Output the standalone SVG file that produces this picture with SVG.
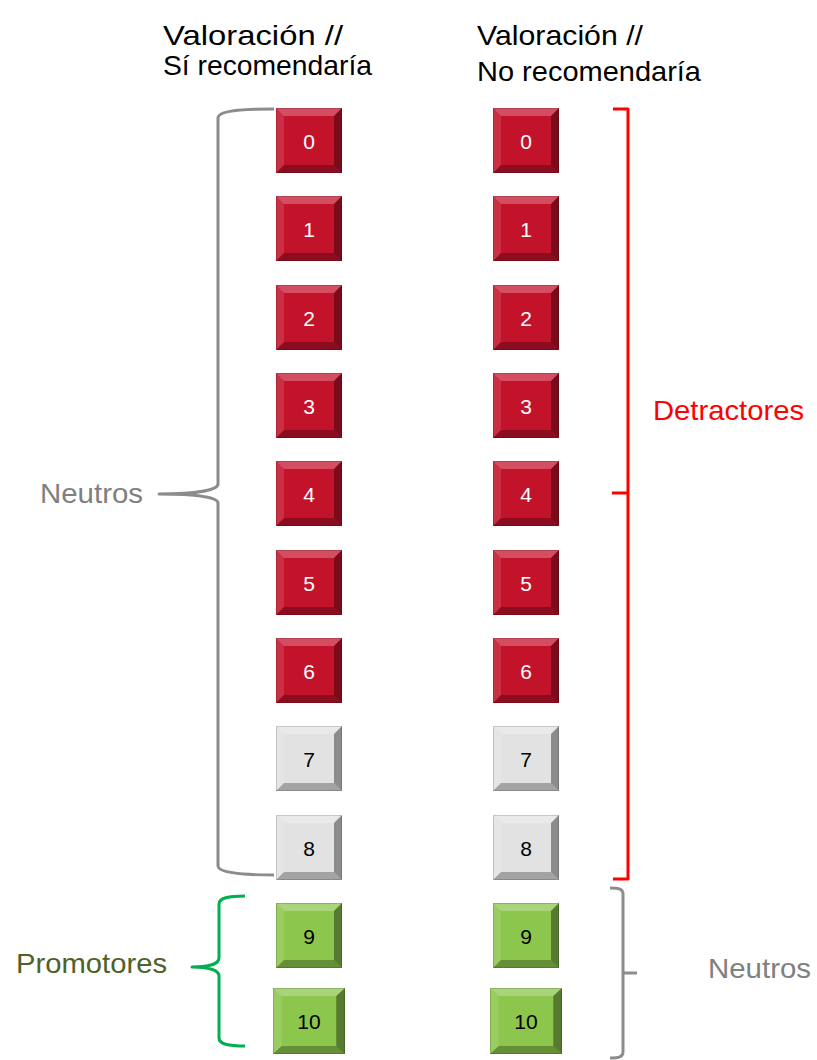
<svg xmlns="http://www.w3.org/2000/svg" xmlns:xlink="http://www.w3.org/1999/xlink" width="817" height="1060" viewBox="0 0 817 1060">
<style>
.hdr{font-family:"Liberation Sans",Arial,sans-serif;font-size:28px;fill:#000}
.lbl{font-family:"Liberation Sans",Arial,sans-serif;font-size:28px}
.num{font-family:"Liberation Sans",Arial,sans-serif;font-size:21px;text-anchor:middle;dominant-baseline:central}
.red rect{fill:#C3132B}
.grey rect{fill:#E2E2E2}
.green rect{fill:#8CC64C}
.red text{fill:#fff}
.grey text,.green text{fill:#000}
.br{fill:none;stroke-width:3;stroke-linecap:butt;stroke-linejoin:round}
</style>
<defs>
<symbol id="bev" viewBox="0 0 66 65" preserveAspectRatio="none">
<polygon points="0,0 66,0 58,8 8,8" fill="#fff" fill-opacity="0.25"/>
<polygon points="0,0 8,8 8,57 0,65" fill="#fff" fill-opacity="0.12"/>
<polygon points="66,0 66,65 58,57 58,8" fill="#000" fill-opacity="0.38"/>
<polygon points="0,65 8,57 58,57 66,65" fill="#000" fill-opacity="0.28"/>
<rect x="0.5" y="0.5" width="65" height="64" fill="none" stroke="#000" stroke-opacity="0.15"/>
</symbol>
</defs>

<g id="headers">
<text class="hdr" x="163" y="45" textLength="180" lengthAdjust="spacingAndGlyphs">Valoración //</text>
<text class="hdr" x="163" y="75" textLength="209" lengthAdjust="spacingAndGlyphs">Sí recomendaría</text>
<text class="hdr" x="477" y="45" textLength="166" lengthAdjust="spacingAndGlyphs">Valoración //</text>
<text class="hdr" x="477" y="81" textLength="224" lengthAdjust="spacingAndGlyphs">No recomendaría</text>
</g>

<g id="labels">
<text class="lbl" x="40" y="503" fill="#808080" textLength="103" lengthAdjust="spacingAndGlyphs">Neutros</text>
<text class="lbl" x="653" y="420" fill="#FF0000" textLength="151" lengthAdjust="spacingAndGlyphs">Detractores</text>
<text class="lbl" x="16" y="973" fill="#4F6228" textLength="151" lengthAdjust="spacingAndGlyphs">Promotores</text>
<text class="lbl" x="708" y="978" fill="#808080" textLength="103" lengthAdjust="spacingAndGlyphs">Neutros</text>
</g>

<g id="connectors">
<path class="br" stroke="#8C8C8C" d="M274,109 C238,109 218,111 218,118 L218,484 C218,490 196,494 159,494 C196,494 218,497 218,503 L218,866 C218,872 238,875 274,875"/>
<path class="br" stroke="#00B050" d="M245,896 C228,896 219,898 219,904 L219,958 C219,964 208,967 192,967 C208,967 219,970 219,976 L219,1038 C219,1044 228,1046 245,1046"/>
<path class="br" stroke="#FF0000" d="M613,109 L628,109 L628,879 L613,879 M628,493 L612,493"/>
<path class="br" stroke="#8C8C8C" d="M610,888 C619,888 623,889 623,894 L623,1052 C623,1057 619,1058 610,1058 M623,973 L637,973"/>
</g>

<g id="L0" class="red"><rect x="276" y="108" width="66" height="65"/><use xlink:href="#bev" x="276" y="108" width="66" height="65"/><text class="num" x="309" y="141">0</text></g>
<g id="L1" class="red"><rect x="276" y="196" width="66" height="65"/><use xlink:href="#bev" x="276" y="196" width="66" height="65"/><text class="num" x="309" y="229">1</text></g>
<g id="L2" class="red"><rect x="276" y="285" width="66" height="65"/><use xlink:href="#bev" x="276" y="285" width="66" height="65"/><text class="num" x="309" y="318">2</text></g>
<g id="L3" class="red"><rect x="276" y="373" width="66" height="65"/><use xlink:href="#bev" x="276" y="373" width="66" height="65"/><text class="num" x="309" y="406">3</text></g>
<g id="L4" class="red"><rect x="276" y="461" width="66" height="65"/><use xlink:href="#bev" x="276" y="461" width="66" height="65"/><text class="num" x="309" y="494">4</text></g>
<g id="L5" class="red"><rect x="276" y="550" width="66" height="65"/><use xlink:href="#bev" x="276" y="550" width="66" height="65"/><text class="num" x="309" y="583">5</text></g>
<g id="L6" class="red"><rect x="276" y="638" width="66" height="65"/><use xlink:href="#bev" x="276" y="638" width="66" height="65"/><text class="num" x="309" y="671">6</text></g>
<g id="L7" class="grey"><rect x="276" y="726" width="66" height="65"/><use xlink:href="#bev" x="276" y="726" width="66" height="65"/><text class="num" x="309" y="759">7</text></g>
<g id="L8" class="grey"><rect x="276" y="815" width="66" height="65"/><use xlink:href="#bev" x="276" y="815" width="66" height="65"/><text class="num" x="309" y="848">8</text></g>
<g id="L9" class="green"><rect x="276" y="903" width="66" height="65"/><use xlink:href="#bev" x="276" y="903" width="66" height="65"/><text class="num" x="309" y="936">9</text></g>
<g id="L10" class="green"><rect x="273" y="988" width="72" height="66"/><use xlink:href="#bev" x="273" y="988" width="72" height="66"/><text class="num" x="309" y="1021">10</text></g>

<g id="R0" class="red"><rect x="493" y="108" width="66" height="65"/><use xlink:href="#bev" x="493" y="108" width="66" height="65"/><text class="num" x="526" y="141">0</text></g>
<g id="R1" class="red"><rect x="493" y="196" width="66" height="65"/><use xlink:href="#bev" x="493" y="196" width="66" height="65"/><text class="num" x="526" y="229">1</text></g>
<g id="R2" class="red"><rect x="493" y="285" width="66" height="65"/><use xlink:href="#bev" x="493" y="285" width="66" height="65"/><text class="num" x="526" y="318">2</text></g>
<g id="R3" class="red"><rect x="493" y="373" width="66" height="65"/><use xlink:href="#bev" x="493" y="373" width="66" height="65"/><text class="num" x="526" y="406">3</text></g>
<g id="R4" class="red"><rect x="493" y="461" width="66" height="65"/><use xlink:href="#bev" x="493" y="461" width="66" height="65"/><text class="num" x="526" y="494">4</text></g>
<g id="R5" class="red"><rect x="493" y="550" width="66" height="65"/><use xlink:href="#bev" x="493" y="550" width="66" height="65"/><text class="num" x="526" y="583">5</text></g>
<g id="R6" class="red"><rect x="493" y="638" width="66" height="65"/><use xlink:href="#bev" x="493" y="638" width="66" height="65"/><text class="num" x="526" y="671">6</text></g>
<g id="R7" class="grey"><rect x="493" y="726" width="66" height="65"/><use xlink:href="#bev" x="493" y="726" width="66" height="65"/><text class="num" x="526" y="759">7</text></g>
<g id="R8" class="grey"><rect x="493" y="815" width="66" height="65"/><use xlink:href="#bev" x="493" y="815" width="66" height="65"/><text class="num" x="526" y="848">8</text></g>
<g id="R9" class="green"><rect x="493" y="903" width="66" height="65"/><use xlink:href="#bev" x="493" y="903" width="66" height="65"/><text class="num" x="526" y="936">9</text></g>
<g id="R10" class="green"><rect x="490" y="988" width="72" height="66"/><use xlink:href="#bev" x="490" y="988" width="72" height="66"/><text class="num" x="526" y="1021">10</text></g>
</svg>
